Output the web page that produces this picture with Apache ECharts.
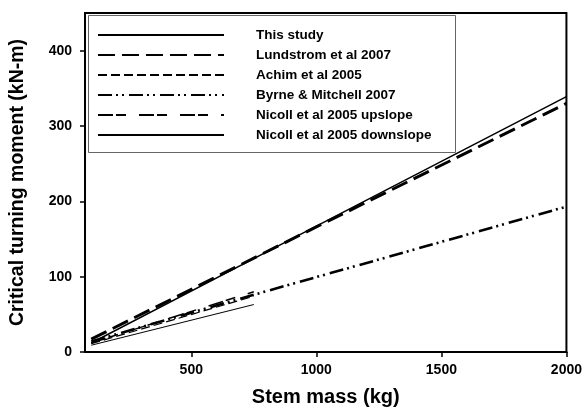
<!DOCTYPE html>
<html>
<head>
<meta charset="utf-8">
<script src="https://cdn.jsdelivr.net/npm/echarts@6/dist/echarts.min.js"></script>
<style>
html,body{margin:0;padding:0;background:#fff;}
#chart{width:585px;height:414px;}
</style>
</head>
<body>
<div id="chart"></div>
<script>
// Data
const seriesNames = ['This study', 'Lundstrom et al 2007', 'Achim et al 2005', 'Byrne & Mitchell 2007', 'Nicoll et al 2005 upslope', 'Nicoll et al 2005 downslope'];
const thisStudyMass = [100, 1000, 2000];
const thisStudyMoment = [12, 167, 339];
const lundstromMass = [100, 1000, 2000];
const lundstromMoment = [17, 166, 330];
const achimMass = [100, 750];
const achimMoment = [11, 74];
const byrneMass = [100, 750, 2000];
const byrneMoment = [14, 76, 193];
const upslopeMass = [100, 750];
const upslopeMoment = [12, 80];
const downslopeMass = [100, 750];
const downslopeMoment = [9, 63];
const xTicks = [500, 1000, 1500, 2000];
const yTicks = [0, 100, 200, 300, 400];

function pairs(xs, ys) { return xs.map((x, i) => [x, ys[i]]); }

const styles = [
  { width: 1.5, type: 'solid' },
  { width: 3, type: [17, 7] },
  { width: 1.2, type: [9, 4] },
  { width: 2.6, type: [14, 4, 2, 4, 2, 5] },
  { width: 1.5, type: [15, 3, 10, 13] },
  { width: 1, type: 'solid' }
];
const dataSets = [
  pairs(thisStudyMass, thisStudyMoment),
  pairs(lundstromMass, lundstromMoment),
  pairs(achimMass, achimMoment),
  pairs(byrneMass, byrneMoment),
  pairs(upslopeMass, upslopeMoment),
  pairs(downslopeMass, downslopeMoment)
];

const chart = echarts.init(document.getElementById('chart'), null, { renderer: 'canvas' });
const font = 'Arial, "Liberation Sans", sans-serif';
chart.setOption({
  animation: false,
  backgroundColor: '#fff',
  grid: { left: 84, right: 18, top: 13, bottom: 62, show: true, borderColor: '#000', borderWidth: 2 },
  graphic: [{
    type: 'rect', left: 88, top: 15, z: 5,
    shape: { width: 367, height: 137 },
    style: { fill: '#fff', stroke: '#666', lineWidth: 1 }
  }],
  legend: {
    orient: 'vertical', left: 97, top: 27, padding: 0, itemGap: 4,
    itemWidth: 126, itemHeight: 14, z: 10,
    data: seriesNames,
    itemStyle: { opacity: 0 },
    textStyle: { fontFamily: font, fontWeight: 'bold', fontSize: 13.5, lineHeight: 16, color: '#000', padding: [0, 0, 0, 27] }
  },
  xAxis: {
    type: 'value', min: 75, max: 2000,
    name: 'Stem mass (kg)', nameLocation: 'middle', nameGap: 35,
    nameTextStyle: { fontFamily: font, fontWeight: 'bold', fontSize: 20, color: '#000' },
    axisLine: { show: true, lineStyle: { color: '#000', width: 2 } },
    axisTick: { show: true, customValues: xTicks, length: 5, lineStyle: { color: '#000', width: 1.5 } },
    axisLabel: { customValues: xTicks, margin: 11, formatter: v => String(v), fontFamily: font, fontWeight: 'bold', fontSize: 14, color: '#000' },
    splitLine: { show: false }
  },
  yAxis: {
    type: 'value', min: 0, max: 450,
    name: 'Critical turning moment (kN-m)', nameLocation: 'middle', nameGap: 57,
    nameTextStyle: { fontFamily: font, fontWeight: 'bold', fontSize: 19.5, color: '#000' },
    axisLine: { show: true, lineStyle: { color: '#000', width: 2 } },
    axisTick: { show: true, customValues: yTicks, length: 5, lineStyle: { color: '#000', width: 1.5 } },
    axisLabel: { customValues: yTicks, margin: 13, formatter: v => String(v), fontFamily: font, fontWeight: 'bold', fontSize: 14, color: '#000' },
    splitLine: { show: false }
  },
  series: seriesNames.map((name, i) => ({
    name: name,
    type: 'line',
    data: dataSets[i],
    symbol: 'none',
    showSymbol: false,
    z: 3,
    color: '#000',
    lineStyle: { color: '#000', width: styles[i].width, type: styles[i].type },
    itemStyle: { color: '#000' }
  }))
});
</script>
</body>
</html>
